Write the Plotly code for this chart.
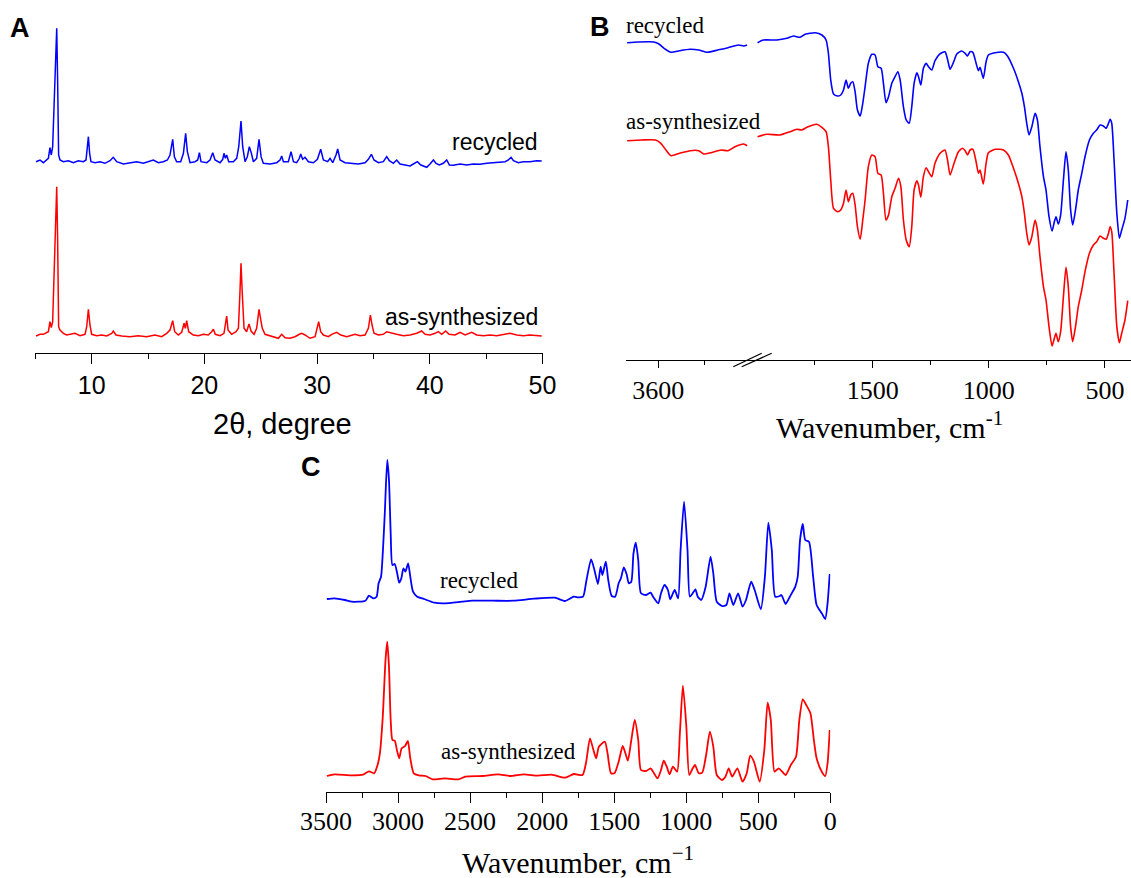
import plotly.graph_objects as go

W, H = 1131, 878

# ---------------- Panel A: PXRD (2theta in degree, intensity a.u.) ----------------
pxrd_recycled = [(5.06,16.6),(5.42,18.3),(5.71,15.6),(6.01,19.0),(6.16,20.0),(6.30,30.6),(6.42,23.3),(6.54,31.6),
 (6.66,76.6),(6.78,105),(6.90,150),(6.98,98.3),(7.07,23.3),(7.19,18.3),(7.49,16.6),(7.93,17.6),(8.38,15.6),
 (8.82,17.6),(9.26,16.6),(9.50,18.3),(9.62,31.6),(9.71,41.6),(9.82,25),(9.94,16.6),(10.30,15.6),(10.74,16.6),
 (11.18,15),(11.63,17.6),(11.92,21),(12.22,16.6),(12.81,14.3),(13.40,15.6),(14.00,16.6),(14.59,15),(15.03,16.6),
 (15.47,18.3),(15.92,15.6),(16.36,16.6),(16.72,18.3),(16.95,23.3),(17.19,39),(17.34,21.6),(17.54,16.6),(17.90,16.6),
 (18.14,25),(18.34,45),(18.49,26.6),(18.73,15.6),(19.17,16.6),(19.41,18.3),(19.56,25.6),(19.70,16.6),(20.21,15.6),
 (20.50,18.3),(20.74,25.6),(20.95,18.3),(21.39,15.6),(21.63,19.0),(21.74,25),(21.86,20),(21.98,23.3),(22.16,16.6),
 (22.57,16.6),(22.87,20),(23.05,31.6),(23.25,57.3),(23.40,31.6),(23.61,16.6),(23.81,21.6),(23.99,31.6),(24.17,25),
 (24.35,16.6),(24.64,20),(24.85,39),(25.03,21.6),(25.23,15),(25.83,14.3),(26.42,15.6),(26.71,18.3),(26.86,22.3),
 (27.01,16.6),(27.45,16.6),(27.69,26.6),(27.90,16.6),(28.19,15.6),(28.43,20),(28.55,24.3),(28.72,19),(28.93,21),
 (29.23,16.6),(29.67,15.6),(30.03,19),(30.32,29),(30.56,18.3),(30.94,16.6),(31.15,20),(31.39,15.6),(31.68,23.3),
 (31.83,29.3),(32.04,18.3),(32.48,15.6),(33.07,15),(33.66,14.3),(34.26,15.6),(34.55,19),(34.82,24),(35.05,18.3),
 (35.44,15.6),(35.88,16.6),(36.18,21.6),(36.41,17.6),(36.77,15),(37.06,18.3),(37.36,14.3),(37.80,13),(38.25,12.3),
 (38.54,14.3),(38.90,16.6),(39.20,13.3),(39.49,11.6),(39.73,11),(40.02,14.3),(40.32,18.3),(40.55,15),(40.85,13.3),
 (41.20,15),(41.50,18.3),(41.74,13.3),(42.09,13),(42.69,14.3),(43.28,13.3),(43.87,14.3),(44.46,14),(45.05,15),
 (45.64,15.6),(46.23,15.6),(46.68,16.6),(46.97,18.3),(47.21,21),(47.42,17.6),(47.86,15.6),(48.30,16.6),(48.89,16.6),
 (49.49,17.6),(49.93,17.3)]

pxrd_as_synth = [(5.06,17.3),(5.42,19),(5.71,19),(6.01,21),(6.16,21.6),(6.30,31.6),(6.42,25.6),(6.54,31.6),(6.66,85),
 (6.78,116.6),(6.90,166.6),(6.98,115),(7.07,26.6),(7.19,23.3),(7.49,20),(7.78,18.3),(8.23,19),(8.52,20),(8.97,17.6),
 (9.41,19),(9.56,26.6),(9.71,44),(9.85,28.3),(10.0,19),(10.45,17.6),(10.89,18.3),(11.33,17.3),(11.78,20),(11.92,22.3),
 (12.16,18.3),(12.66,17.3),(13.40,16.6),(14.14,17.6),(14.88,16.6),(15.62,18.3),(16.21,16.6),(16.66,20),(16.95,23.3),
 (17.19,32.6),(17.37,21.6),(17.69,18.3),(17.99,21),(18.20,30),(18.31,25),(18.43,32.6),(18.61,21.6),(19.02,18.3),
 (19.47,17.6),(19.91,19),(20.35,18.3),(20.65,21.6),(20.80,24),(20.97,19),(21.39,17.6),(21.74,20),(21.89,31.6),
 (21.98,37.3),(22.10,23.3),(22.42,19),(22.81,21.6),(23.02,25),(23.16,61.6),(23.25,90),(23.37,58.3),(23.52,25),
 (23.75,21.6),(23.96,29.3),(24.14,22.3),(24.41,19),(24.64,25),(24.85,44),(25.03,31.6),(25.14,25),(25.38,19),
 (25.83,17.6),(26.27,16.6),(26.56,15),(26.86,19),(27.16,15.6),(27.60,15),(28.04,16.6),(28.43,19),(28.64,20),
 (28.93,18.3),(29.37,15),(29.82,16.6),(30.03,26.6),(30.14,31.6),(30.32,21.6),(30.56,18.3),(31.0,16.6),(31.30,19),
 (31.74,21),(32.10,18.3),(32.63,16.6),(33.37,19),(33.81,17.6),(34.26,18.3),(34.55,25),(34.73,38.3),(34.88,28.3),
 (35.05,20),(35.44,18.3),(35.88,19),(36.18,21.6),(36.62,20),(37.06,19),(37.66,17.6),(38.25,18.3),(38.84,20),
 (39.28,22.3),(39.58,19),(40.02,18.3),(40.47,20),(40.76,21.6),(41.06,19),(41.41,22.3),(41.71,19),(42.24,18.3),
 (42.69,21),(43.13,18.3),(43.72,21),(44.16,18.3),(44.75,17.6),(45.35,18.3),(45.94,17.6),(46.68,19),(47.12,20),
 (47.71,18.3),(48.30,17.6),(48.89,18.3),(49.49,17.3),(49.93,17.3)]

pxrd_offset = 175
pxrd_ticks = [10, 20, 30, 40, 50]
pxrd_minor = [5, 15, 25, 35, 45]

# ---------------- Panel B: FTIR (wavenumber, transmittance a.u.) ----------------
ftir_rec_high = [(3734,217.3),(3686,218),(3619,218),(3597,216),(3575,211.7),(3545,207.7),(3508,209.3),(3463,210.7),
 (3426,210),(3389,207.7),(3344,210),(3300,212.3),(3255,215),(3233,214),(3218,215)]
ftir_rec_low = [(1996,217.3),(1971,220),(1913,220),(1870,221.7),(1841,224),(1813,222.7),(1791,225.7),(1748,227.3),
 (1719,225),(1701,220),(1691,206.7),(1681,180),(1669,166),(1652,164),(1638,165),(1626,170),(1615,180),(1605,171.7),
 (1595,176.7),(1586,178.3),(1576,168.3),(1566,150),(1554,144),(1543,156.7),(1533,173.3),(1519,196.7),(1504,205.7),
 (1490,205),(1478,193.3),(1464,191.7),(1454,176.7),(1443,157.3),(1432,163.3),(1418,176.7),(1404,183.3),(1392,188.3),
 (1382,180),(1368,153.3),(1356,140),(1343,136.7),(1332,153.3),(1322,176.7),(1310,187.3),(1303,183.3),(1293,175),
 (1282,191.7),(1270,196.7),(1260,193.3),(1246,190),(1232,199.3),(1213,205.7),(1189,208.3),(1178,200.7),(1167,190.7),
 (1153,197.3),(1138,206),(1117,209),(1102,206.7),(1092,204),(1081,208.3),(1069,207.7),(1055,196.7),(1045,189.3),
 (1038,192.7),(1024,181.7),(1012,198.3),(1002,205),(973,207.3),(937,207.7),(920,204),(894,191.7),(873,178.3),
 (858,166.7),(847,153.3),(837,136.7),(827,125),(815,133.3),(801,146.7),(791,140),(780,113.3),(765,83.3),(754,70),
 (741,43.3),(728,29),(718,38.3),(711,43.3),(701,36),(691,45),(679,80),(668,108.3),(658,90),(648,50),(639,35),
 (627,50),(615,70),(600,86.7),(586,103.3),(567,120),(550,126.7),(536,130),(521,135),(507,134),(495,131.7),
 (485,136.7),(478,140.7),(471,136.7),(461,100),(449,46.7),(438,21.7),(428,30),(414,41.7),(402,60)]

ftir_syn_high = [(3734,219.3),(3671,220),(3612,220),(3589,216.7),(3567,210),(3545,204.3),(3508,206.7),(3463,209.3),
 (3426,209.3),(3404,206),(3374,207.3),(3330,210),(3300,209.3),(3270,213.3),(3233,216),(3218,214.3)]
ftir_syn_low = [(1996,223.3),(1956,225.7),(1899,225),(1856,228.3),(1827,230.7),(1806,230),(1784,232.7),(1741,235.7),
 (1719,232.7),(1701,228.3),(1691,213.3),(1681,180),(1669,151.7),(1652,148.3),(1638,150),(1626,156.7),(1615,170),
 (1605,158.3),(1595,165),(1586,166.7),(1576,155),(1566,133.3),(1554,120.7),(1543,140),(1533,160),(1519,193.3),
 (1504,205),(1490,203.3),(1478,186.7),(1464,185),(1454,166.7),(1443,140),(1432,145),(1418,163.3),(1404,171.7),
 (1389,181.7),(1379,173.3),(1368,140),(1356,120),(1343,113.3),(1332,133.3),(1322,170),(1310,179.3),(1303,175),
 (1293,162.7),(1282,183.3),(1270,192.3),(1260,188.3),(1246,183.3),(1232,196.7),(1210,206.7),(1189,210),(1178,200),
 (1167,185),(1150,196.7),(1131,208.3),(1114,211.7),(1102,209.3),(1092,205),(1081,210),(1069,210.7),(1055,198.3),
 (1045,186.7),(1038,190),(1024,176),(1012,196.7),(1002,207.3),(973,210.7),(937,210),(916,205),(894,191.7),
 (873,176.7),(858,163.3),(847,146.7),(837,126.7),(827,115),(815,123.3),(801,140),(791,130),(780,103.3),(765,73.3),
 (754,60),(741,33.3),(728,14),(718,21.7),(711,26.7),(701,18.3),(691,28.3),(679,63.3),(668,92.7),(658,73.3),
 (648,33.3),(639,18.3),(627,33.3),(615,53.3),(600,70),(586,88.3),(567,106.7),(550,115),(536,118.3),(521,124),
 (507,121.7),(495,120.7),(485,126.7),(478,133.3),(471,128.3),(461,86.7),(449,33.3),(438,17.3),(428,26.7),
 (414,40),(402,59.3)]

ftir_offset = 100
ftir_ticks_high, ftir_minor_high = [3600], [3400]
ftir_ticks_low, ftir_minor_low = [1500, 1000, 500], [1750, 1250, 750]

# ---------------- Panel C: Raman (wavenumber, intensity a.u.) ----------------
raman_recycled = [(3494,17.7),(3441,18.4),(3369,16.7),(3322,15.0),(3226,16.0),(3202,21.0),(3173,18.4),(3149,20.0),
 (3135,33.4),(3118,40.0),(3106,63.4),(3092,103.4),(3075,156.7),(3063,136.7),(3051,83.4),(3039,51.7),(3023,52.7),
 (3006,43.4),(2992,34.0),(2977,38.4),(2963,48.4),(2949,45.0),(2930,53.4),(2915,40.0),(2896,25.0),(2867,20.0),
 (2820,17.7),(2748,14.0),(2676,13.4),(2557,15.0),(2485,16.0),(2342,16.0),(2198,16.0),(2055,18.0),(1911,19.0),
 (1840,15.7),(1780,20.0),(1749,19.4),(1716,20.0),(1692,36.7),(1660,57.4),(1637,46.7),(1613,32.7),(1594,50.0),
 (1582,41.7),(1558,55.0),(1541,36.7),(1517,20.7),(1493,20.0),(1469,33.4),(1453,38.4),(1433,49.4),(1414,42.7),
 (1398,33.4),(1381,35.0),(1366,63.4),(1350,74.0),(1333,56.7),(1314,23.4),(1278,21.7),(1247,24.0),(1230,20.0),
 (1194,13.4),(1175,23.4),(1151,31.7),(1127,26.7),(1111,17.4),(1080,26.7),(1056,18.4),(1039,66.7),(1015,115.0),
 (991,66.7),(975,20.0),(955,23.4),(936,27.4),(920,20.0),(896,16.7),(865,30.0),(831,60.0),(812,43.4),(788,15.0),
 (752,10.7),(721,11.7),(700,23.4),(673,11.7),(640,23.4),(609,10.0),(585,16.7),(549,35.0),(525,26.7),(482,7.4),
 (454,40.0),(430,94.0),(406,66.7),(382,20.0),(351,20.7),(339,21.7),(310,12.7),(281,20.0),(243,30.0),(226,40.0),
 (210,76.7),(191,92.7),(174,76.7),(148,75.0),(119,40.0),(95,11.7),(59,3.4),(35,-2.3),(19,13.4),(4,42.7)]

raman_as_synth = [(3494,15.7),(3441,17.4),(3322,16.4),(3238,17.4),(3202,20.4),(3166,18.4),(3142,26.7),(3126,38.4),
 (3106,75.0),(3087,131.7),(3075,150.0),(3063,125.0),(3051,71.7),(3039,51.7),(3023,51.0),(3008,41.7),(2992,33.4),
 (2975,43.4),(2951,45.7),(2932,50.7),(2915,33.4),(2891,18.4),(2856,16.4),(2808,15.7),(2760,12.4),(2676,13.4),
 (2581,12.4),(2533,15.0),(2413,15.7),(2306,17.4),(2222,15.7),(2127,17.4),(2031,16.0),(1935,17.0),(1840,14.0),
 (1780,17.7),(1720,16.7),(1696,28.4),(1668,53.4),(1644,41.7),(1625,33.4),(1606,45.0),(1565,50.0),(1546,38.4),
 (1522,18.4),(1498,18.4),(1469,30.0),(1441,45.7),(1422,38.4),(1405,31.0),(1381,51.7),(1357,71.7),(1333,51.7),
 (1314,21.7),(1278,20.7),(1247,23.4),(1230,20.0),(1199,13.4),(1175,21.7),(1156,31.0),(1135,25.0),(1116,17.4),
 (1092,25.0),(1063,20.0),(1044,58.4),(1023,106.0),(999,65.0),(979,16.7),(955,23.4),(939,26.7),(913,18.4),
 (889,19.0),(860,38.4),(836,60.0),(812,45.0),(788,16.7),(752,11.7),(728,15.0),(705,23.4),(681,15.0),(645,23.4),
 (609,10.0),(580,18.4),(556,36.0),(530,30.0),(490,10.0),(458,41.7),(435,89.0),(413,71.7),(387,20.0),(358,23.4),
 (334,20.0),(310,16.7),(274,26.7),(238,35.0),(215,71.7),(191,92.4),(167,86.7),(138,78.4),(114,51.7),(95,33.4),
 (59,20.0),(35,15.7),(19,28.4),(4,61.7)]

raman_offset = 175
raman_ticks = [3500, 3000, 2500, 2000, 1500, 1000, 500, 0]
raman_minor = [3250, 2750, 2250, 1750, 1250, 750, 250]

BLUE, RED = "#0000FF", "#FF0000"
SANS, SERIF = "Liberation Sans", "Liberation Serif"


def px(x):
    return x / W


def py(y):
    return 1 - y / H


def xs(pts):
    return [p[0] for p in pts]


def ys(pts, off=0):
    return [p[1] + off for p in pts]


fig = go.Figure()

# Panel A
fig.add_trace(go.Scatter(x=xs(pxrd_recycled), y=ys(pxrd_recycled, pxrd_offset), mode="lines",
                         line=dict(color=BLUE, width=1.5), xaxis="x", yaxis="y"))
fig.add_trace(go.Scatter(x=xs(pxrd_as_synth), y=ys(pxrd_as_synth), mode="lines",
                         line=dict(color=RED, width=1.5), xaxis="x", yaxis="y"))

# Panel B
for pts, col, off, xa in [(ftir_rec_high, BLUE, ftir_offset, "x2"), (ftir_rec_low, BLUE, ftir_offset, "x3"),
                          (ftir_syn_high, RED, 0, "x2"), (ftir_syn_low, RED, 0, "x3")]:
    fig.add_trace(go.Scatter(x=xs(pts), y=ys(pts, off), mode="lines",
                             line=dict(color=col, width=1.6, shape="spline", smoothing=0.6),
                             xaxis=xa, yaxis="y2"))

# Panel C
fig.add_trace(go.Scatter(x=xs(raman_recycled), y=ys(raman_recycled, raman_offset), mode="lines",
                         line=dict(color=BLUE, width=1.8, shape="spline", smoothing=0.6), xaxis="x4", yaxis="y3"))
fig.add_trace(go.Scatter(x=xs(raman_as_synth), y=ys(raman_as_synth), mode="lines",
                         line=dict(color=RED, width=1.8, shape="spline", smoothing=0.6), xaxis="x4", yaxis="y3"))


def xaxis_style(rng, dom, anchor, tickvals, minorvals, ticklen, mticklen, font, size, standoff=0):
    return dict(range=rng, domain=dom, anchor=anchor, showgrid=False, zeroline=False, automargin=False,
                showline=True, linecolor="black", linewidth=1.3,
                ticks="outside", tickmode="array", tickvals=tickvals, ticklen=ticklen,
                tickwidth=1.3, tickcolor="black", tickfont=dict(family=font, size=size, color="black"),
                ticklabelstandoff=standoff,
                minor=dict(tickmode="array", tickvals=minorvals, ticks="outside", ticklen=mticklen,
                           tickwidth=1.3, tickcolor="black"))


yhidden = dict(visible=False, showgrid=False, zeroline=False, fixedrange=True, automargin=False)

fig.update_layout(
    template="none",
    width=W, height=H, margin=dict(l=0, r=0, t=0, b=0, pad=0, autoexpand=False),
    paper_bgcolor="white", plot_bgcolor="white", showlegend=False,
    xaxis=xaxis_style([5, 50], [px(35.3), px(542.5)], "y", pxrd_ticks, pxrd_minor, 10, 5, SANS, 25),
    yaxis=dict(range=[0, 333.3], domain=[py(353.3), py(20)], anchor="x", **yhidden),
    xaxis2=xaxis_style([3740, 3197], [px(625.7), px(752)], "y2", ftir_ticks_high, ftir_minor_high, 7, 3.5, SERIF, 26),
    xaxis3=xaxis_style([2020, 388], [px(752), 1.0], "y2", ftir_ticks_low, ftir_minor_low, 7, 3.5, SERIF, 26),
    yaxis2=dict(range=[0, 340], domain=[py(360), py(20)], anchor="x2", **yhidden),
    xaxis4=xaxis_style([3500, 0], [px(326), px(830.3)], "y3", raman_ticks, raman_minor, 10, 5, SERIF, 26, -4),
    yaxis3=dict(range=[0, 336.7], domain=[py(791.7), py(455)], anchor="x4", **yhidden),
)

# axis-break marks on panel B
for x0, x1 in [(733.3, 761.7), (741.7, 771.7)]:
    fig.add_shape(type="line", xref="paper", yref="paper", x0=px(x0), y0=py(366.7), x1=px(x1), y1=py(353.3),
                  line=dict(color="black", width=1.2))


def ann(text, x, y, font, size, xanchor="center", bold=False):
    fig.add_annotation(text=("<b>%s</b>" % text) if bold else text, x=px(x), y=py(y), xref="paper", yref="paper",
                       xanchor=xanchor, yanchor="middle", showarrow=False,
                       font=dict(family=font, size=size, color="black"))


ann("A", 20.5, 28.3, SANS, 27, bold=True)
ann("B", 600.4, 26.7, SANS, 27, bold=True)
ann("C", 311, 466.7, SANS, 27, bold=True)

ann("recycled", 540, 142, SANS, 23, xanchor="right")
ann("as-synthesized", 540, 317, SANS, 23, xanchor="right")
ann("recycled", 623.5, 25, SERIF, 23, xanchor="left")
ann("as-synthesized", 624.5, 121.7, SERIF, 23, xanchor="left")
ann("recycled", 437.7, 580, SERIF, 23, xanchor="left")
ann("as-synthesized", 438.8, 751, SERIF, 23, xanchor="left")

ann("2θ, degree", 282, 424, SANS, 29)
ann("Wavenumber, cm<sup>-1</sup>", 889, 425, SERIF, 30)
ann("Wavenumber, cm<sup>\u22121</sup>", 578, 860, SERIF, 30)

fig.write_html("out.html")
